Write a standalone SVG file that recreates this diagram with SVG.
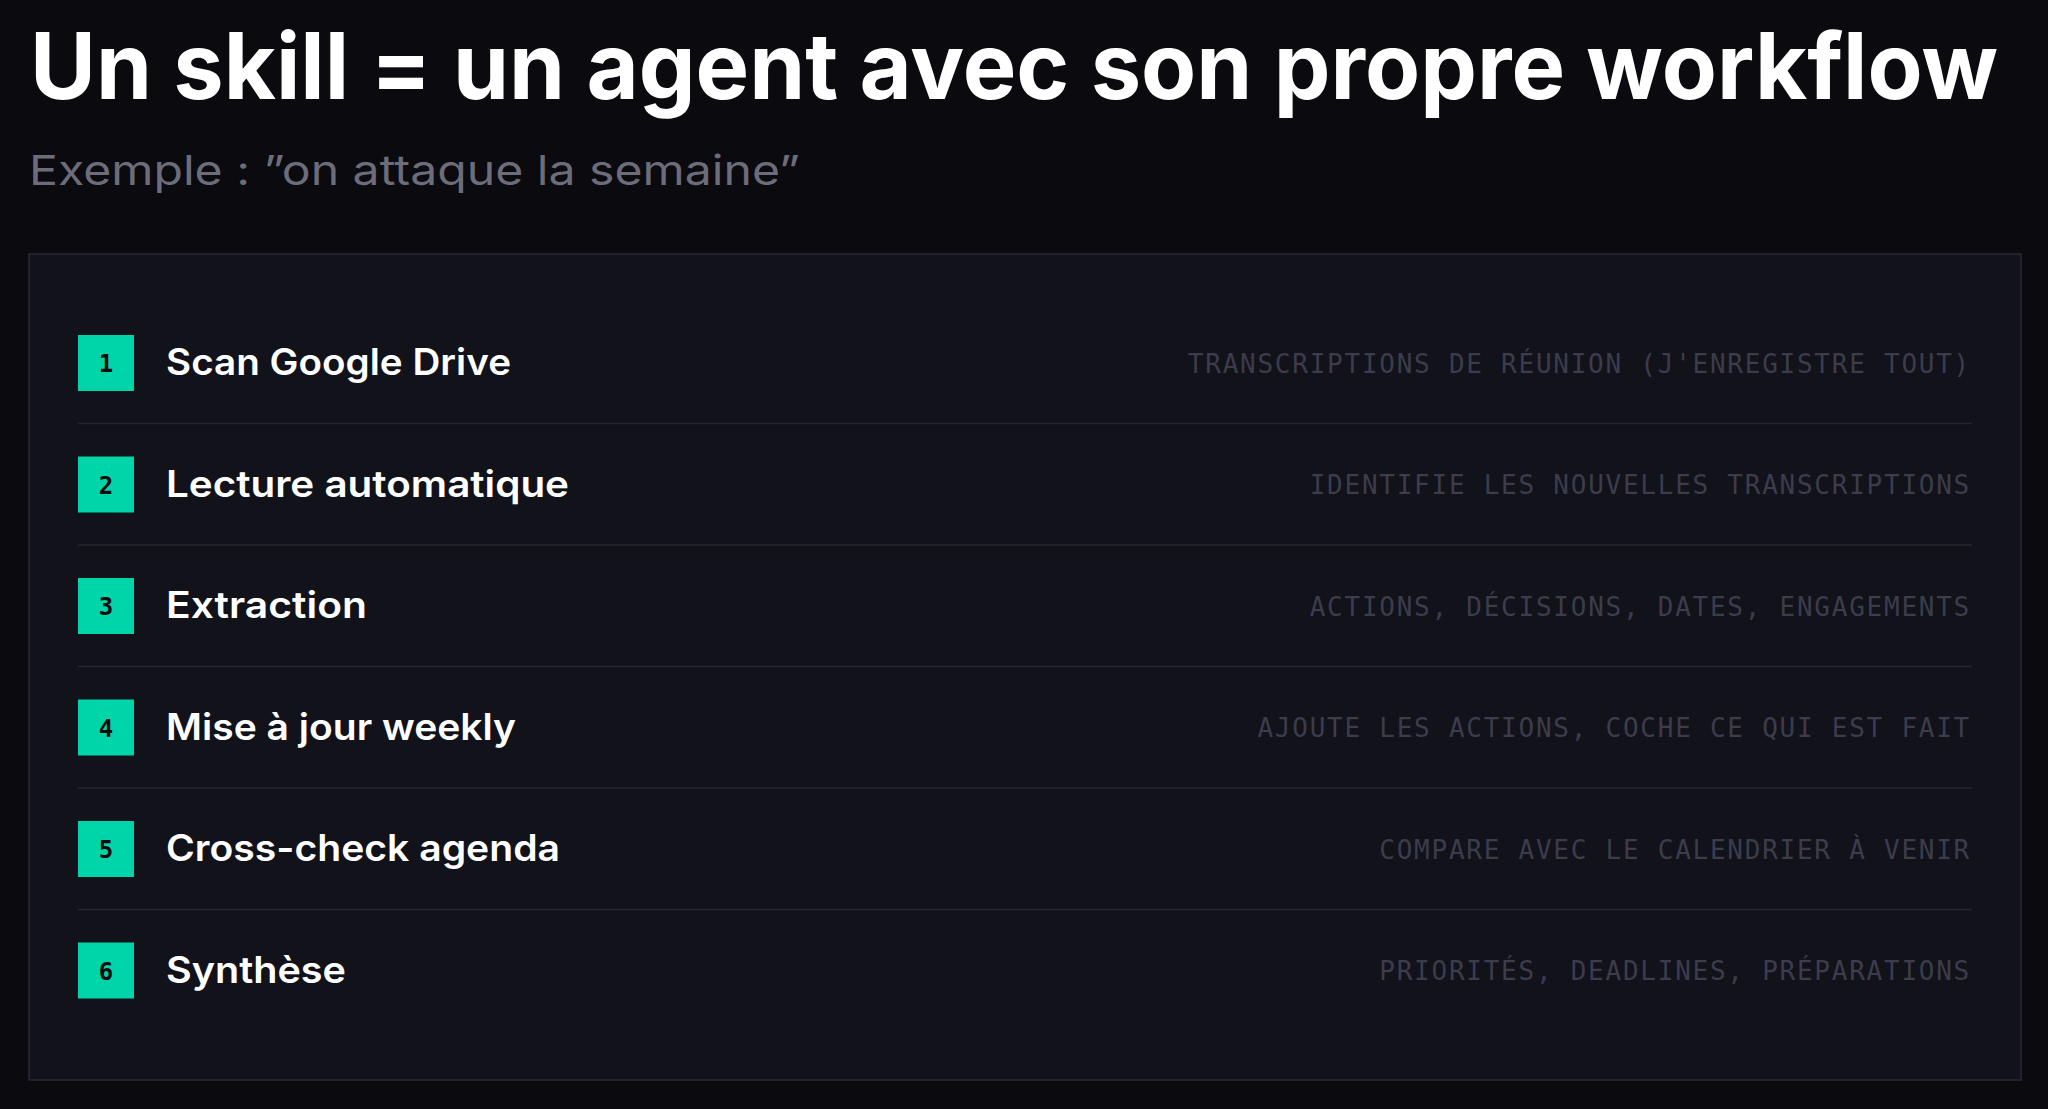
<svg xmlns="http://www.w3.org/2000/svg" width="2048" height="1109" viewBox="0 0 2048 1109">
  <style>
    .bg { fill: #0a0a0f; }
    .title { font-family: Inter, "Liberation Sans", sans-serif; font-weight: 700; font-size: 92px; fill: #ffffff; }
    .subtitle { font-family: Inter, "Liberation Sans", sans-serif; font-weight: 400; font-size: 41px; fill: #6c6c7a; }
    .panel { fill: #11121a; stroke: #2a2a37; stroke-width: 1.5; }
    .badge { fill: #00d4a9; }
    .num { font-family: "DejaVu Sans Mono", "Liberation Mono", monospace; font-weight: 700; font-size: 24px; fill: #0a0a0f; text-anchor: middle; }
    .step { font-family: Inter, "Liberation Sans", sans-serif; font-weight: 600; font-size: 37px; fill: #ffffff; }
    .desc { font-family: "DejaVu Sans Mono", "Liberation Mono", monospace; font-size: 26px; letter-spacing: 1.75px; fill: #3c3c4c; text-anchor: end; }
    .sep { stroke: #262633; stroke-width: 1.5; }
  </style>
  <rect class="bg" x="0" y="0" width="2048" height="1109"/>
  <g id="header">
    <text class="title" x="30" y="99" textLength="1968" lengthAdjust="spacingAndGlyphs">Un skill = un agent avec son propre workflow</text>
    <text class="subtitle" x="29" y="185" textLength="771" lengthAdjust="spacingAndGlyphs">Exemple : ”on attaque la semaine”</text>
  </g>
  <g id="panel">
    <rect class="panel" x="29" y="254" width="1992" height="826"/>
  </g>
  <g id="connectors">
    <line class="sep" x1="78" y1="423.5" x2="1972" y2="423.5"/>
    <line class="sep" x1="78" y1="545" x2="1972" y2="545"/>
    <line class="sep" x1="78" y1="666.5" x2="1972" y2="666.5"/>
    <line class="sep" x1="78" y1="788" x2="1972" y2="788"/>
    <line class="sep" x1="78" y1="909.5" x2="1972" y2="909.5"/>
  </g>
  <g id="step1">
    <rect class="badge" x="78" y="335" width="56" height="56"/>
    <text class="num" x="106" y="372">1</text>
    <text class="step" x="166" y="375" textLength="345" lengthAdjust="spacingAndGlyphs">Scan Google Drive</text>
    <text class="desc" x="1971" y="372.5">TRANSCRIPTIONS DE RÉUNION (J'ENREGISTRE TOUT)</text>
  </g>
  <g id="step2">
    <rect class="badge" x="78" y="456.5" width="56" height="56"/>
    <text class="num" x="106" y="493.5">2</text>
    <text class="step" x="166" y="496.5" textLength="403" lengthAdjust="spacingAndGlyphs">Lecture automatique</text>
    <text class="desc" x="1971" y="494">IDENTIFIE LES NOUVELLES TRANSCRIPTIONS</text>
  </g>
  <g id="step3">
    <rect class="badge" x="78" y="578" width="56" height="56"/>
    <text class="num" x="106" y="615">3</text>
    <text class="step" x="166" y="618" textLength="201" lengthAdjust="spacingAndGlyphs">Extraction</text>
    <text class="desc" x="1971" y="615.5">ACTIONS, DÉCISIONS, DATES, ENGAGEMENTS</text>
  </g>
  <g id="step4">
    <rect class="badge" x="78" y="699.5" width="56" height="56"/>
    <text class="num" x="106" y="736.5">4</text>
    <text class="step" x="166" y="739.5" textLength="350" lengthAdjust="spacingAndGlyphs">Mise à jour weekly</text>
    <text class="desc" x="1971" y="737">AJOUTE LES ACTIONS, COCHE CE QUI EST FAIT</text>
  </g>
  <g id="step5">
    <rect class="badge" x="78" y="821" width="56" height="56"/>
    <text class="num" x="106" y="858">5</text>
    <text class="step" x="166" y="861" textLength="394" lengthAdjust="spacingAndGlyphs">Cross-check agenda</text>
    <text class="desc" x="1971" y="858.5">COMPARE AVEC LE CALENDRIER À VENIR</text>
  </g>
  <g id="step6">
    <rect class="badge" x="78" y="942.5" width="56" height="56"/>
    <text class="num" x="106" y="979.5">6</text>
    <text class="step" x="166" y="982.5" textLength="180" lengthAdjust="spacingAndGlyphs">Synthèse</text>
    <text class="desc" x="1971" y="980">PRIORITÉS, DEADLINES, PRÉPARATIONS</text>
  </g>
</svg>
